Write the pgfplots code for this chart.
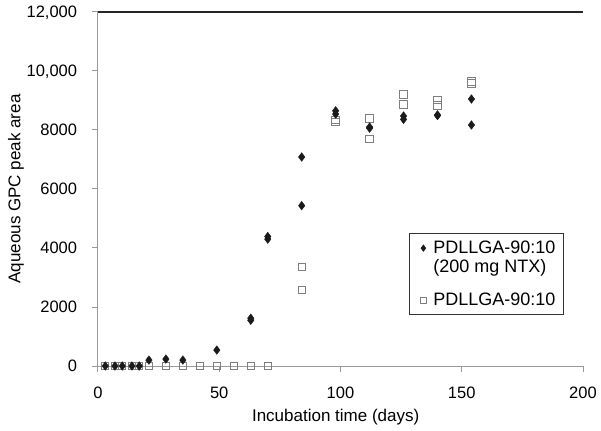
\documentclass[border=0pt]{standalone}
\usepackage{fontspec}
\setmainfont{Liberation Sans}
\usepackage{pgfplots}
\pgfplotsset{compat=1.18}
\definecolor{axgray}{HTML}{9A9A9A}
\definecolor{sqgray}{HTML}{7F7F7F}
\definecolor{dia}{HTML}{1A1A1A}
\begin{document}
\fontsize{16bp}{19bp}\selectfont
\begin{tikzpicture}
\begin{axis}[
  at={(0,0)}, anchor=south west,
  scale only axis,
  width=485bp, height=354bp,
  xmin=0, xmax=200, ymin=0, ymax=12000,
  scaled ticks=false,
  axis x line*=bottom, axis y line*=left,
  axis line style={axgray, line width=1bp, -},
  xtick={0,50,100,150,200},
  xticklabels={0,50,100,150,200},
  ytick={0,2000,4000,6000,8000,10000,12000},
  yticklabels={0,2000,4000,6000,8000,{10,000},{12,000}},
  tick align=outside,
  major tick length=6bp,
  tick style={axgray, line width=1bp},
  xticklabel style={font=\fontsize{16.5bp}{19bp}\selectfont, inner sep=0pt, anchor=north, yshift=-15bp},
  yticklabel style={font=\fontsize{16.5bp}{19bp}\selectfont, inner sep=0pt, anchor=east, text depth=0pt, xshift=-14.7bp},
  xlabel={Incubation time (days)},
  ylabel={Aqueous GPC peak area},
  xlabel style={font=\fontsize{17bp}{19bp}\selectfont, at={(axis description cs:0.49,0)}, anchor=base, yshift=-55bp, inner sep=0pt},
  ylabel style={font=\fontsize{17bp}{19bp}\selectfont, at={(axis description cs:0,0.5)}, anchor=base, yshift=77.5bp, inner sep=0pt},
  clip=false,
  legend style={at={(rel axis cs:0.6412,0.3749)}, anchor=north west,
    draw=black!80, line width=0.8bp, font=\fontsize{18bp}{20bp}\selectfont,
    inner xsep=5.5bp, inner ysep=5bp, row sep=0bp, column sep=5bp,
    cells={anchor=west}},
  legend cell align=left,
]
% squares (no drug)
\addplot[only marks, mark=square, mark size=3.7bp, color=sqgray, mark options={line width=1bp}, forget plot] coordinates {
(3,0) (7,0) (10,0) (14,0) (17,0) (21,0) (28,0) (35,0) (42,0) (49,0) (56,0) (63,0) (70,0)
(84,3365) (84,2575) (98,8330) (98,8270) (112,8395) (112,7695)
(126,9210) (126,8870) (140,9020) (140,8825) (154,9640) (154,9580)
};
% diamonds (200 mg NTX)
\addplot[only marks, mark=diamond*, mark size=4.3bp, color=dia, forget plot] coordinates {
(3,0) (7,0) (10,0) (14,0) (17,0) (21,200) (28,235) (35,200) (49,540)
(63,1550) (63,1620) (70,4300) (70,4390) (84,7085) (84,5435)
(98,8650) (98,8540) (112,8100) (112,8060) (126,8475) (126,8360)
(140,8510) (140,8490) (154,9050) (154,8170)
};
\addlegendimage{only marks, mark=diamond*, mark size=3bp, color=dia}
\addlegendentry{PDLLGA-90:10}
\addlegendimage{empty legend}
\addlegendentry[text depth=16bp]{(200 mg NTX)}
\addlegendimage{only marks, mark=square, mark size=3bp, color=sqgray, mark options={line width=0.8bp}}
\addlegendentry{PDLLGA-90:10}
\draw[black!85, line width=1.1bp] (rel axis cs:0,1) -- (rel axis cs:1,1);
\end{axis}
\pgfresetboundingbox
\path (-98bp,-65bp) rectangle (503bp,366bp);
\end{tikzpicture}
\end{document}
